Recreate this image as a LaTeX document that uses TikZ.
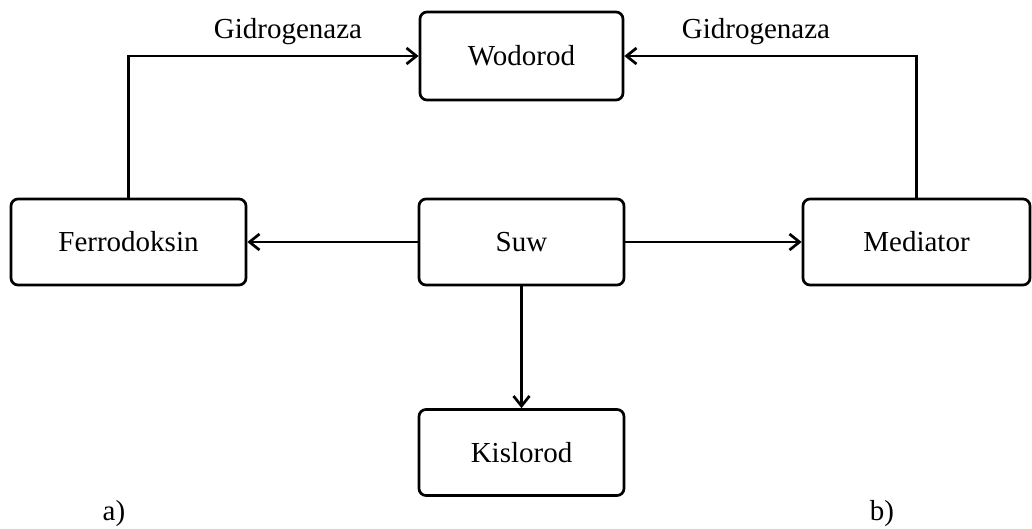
\documentclass[tikz,border=0pt]{standalone}
\usepackage{fontspec}
\setmainfont{Liberation Serif}
\usetikzlibrary{arrows.meta}
\begin{document}
\begin{tikzpicture}[x=1pt,y=-1pt,
  box/.style={draw, line width=2.7pt, rounded corners=7pt, inner sep=0pt,
    minimum height=86pt, font=\fontsize{29}{34}\selectfont},
  conn/.style={line width=2.7pt, -{Straight Barb[length=10pt,width=16pt,line width=2.7pt]}},
  lbl/.style={inner sep=0pt, font=\fontsize{29}{34}\selectfont}]
\useasboundingbox (0,0) rectangle (1032,528);
\node[box, minimum width=203pt, minimum height=88pt] (W) at (521.5,56) {Wodorod};
\node[box, minimum width=235pt] (F) at (128.5,242) {Ferrodoksin};
\node[box, minimum width=205pt] (S) at (521.5,242) {Suw};
\node[box, minimum width=227pt] (M) at (916.5,242) {Mediator};
\node[box, minimum width=205pt] (K) at (521.5,452.5) {Kislorod};
\node[lbl] (g1) at (288,32) {Gidrogenaza};
\node[lbl] (g2) at (756,32) {Gidrogenaza};
\node[lbl] (la) at (114,514) {a)};
\node[lbl] (lb) at (882,514) {b)};
\draw[conn] (F.north) |- (W.west);
\draw[conn] (M.north) |- (W.east);
\draw[conn] (S.west) -- (F.east);
\draw[conn] (S.east) -- (M.west);
\draw[conn] (S.south) -- (K.north);
\end{tikzpicture}
\end{document}
